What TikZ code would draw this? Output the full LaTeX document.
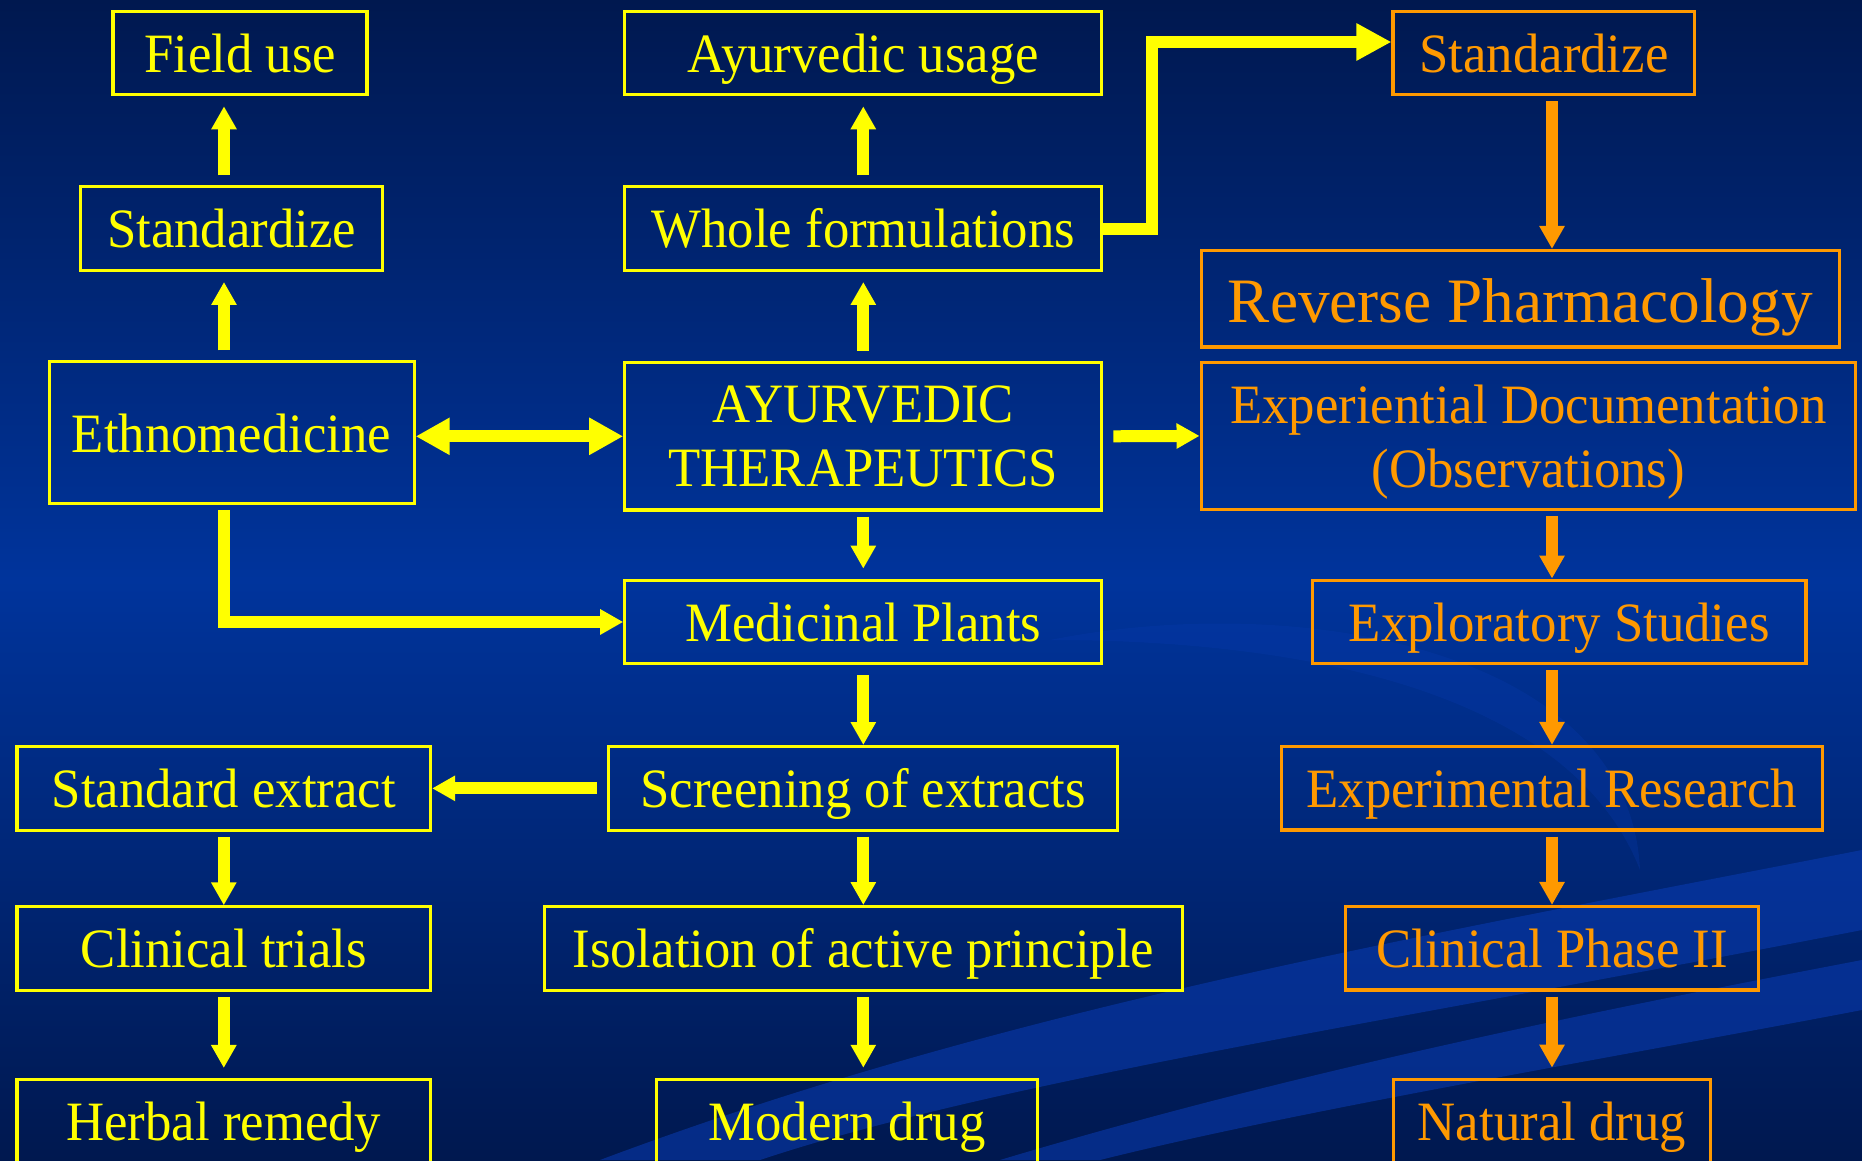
\documentclass[tikz,border=0pt]{standalone}
\usepackage{fontspec}
\setmainfont[FakeStretch=0.95]{Liberation Serif}
\newfontfamily\bigserif{Liberation Serif}
\usetikzlibrary{positioning}
\usetikzlibrary{arrows.meta}

\definecolor{ayuyellow}{HTML}{FFFF00}
\definecolor{rporange}{HTML}{FF9900}
\definecolor{bgdark}{HTML}{00184F}
\definecolor{bgmid}{HTML}{00349C}
\definecolor{swoosh}{HTML}{0A3CB4}

\begin{document}
\begin{tikzpicture}[font=\fontsize{15.8}{18.3}\selectfont]
        \tikzstyle{box_style} = [rectangle, line width=0.9pt, inner sep=0pt, minimum height=0.835cm]
        \tikzstyle{ybox_style} = [box_style, draw=ayuyellow, text=ayuyellow, text height=11pt, text depth=0pt]
        \tikzstyle{obox_style} = [box_style, draw=rporange, text=rporange, text height=11pt, text depth=0pt]
        \tikzstyle{two_lines} = [align=center, minimum height=1.475cm, text height=, text depth=0pt]
        \tikzstyle{yarrow_style} = [-{Triangle[length=2.3mm, width=2.4mm]}, ayuyellow, line width=1.2mm, shorten <=0.5mm, shorten >=0.3mm]
        \tikzstyle{oarrow_style} = [yarrow_style, rporange]
        \tikzstyle{barrow_style} = [yarrow_style, -{Triangle[length=3.5mm, width=3.5mm]}]
        \tikzstyle{up_style} = [shorten <=1mm, shorten >=1mm]

        % background
        \useasboundingbox (0,0) rectangle (18.62,11.60);
        \shade[top color=bgdark, bottom color=bgdark, middle color=bgmid] (0,0) rectangle (18.62,11.60);
        \fill[swoosh, opacity=0.55] (6.0,0) .. controls (10,1.5) and (14,2.2) .. (18.62,3.1)
            -- (18.62,2.3) .. controls (14,1.4) and (10,0.8) .. (7.6,0) -- cycle;
        \fill[swoosh, opacity=0.55] (10.0,0) .. controls (13,0.9) and (16,1.5) .. (18.62,2.0)
            -- (18.62,1.5) .. controls (16,1.0) and (13,0.5) .. (11.0,0) -- cycle;
        \fill[swoosh, opacity=0.25] (10.5,5.2) .. controls (13,5.7) and (16.3,5.1) .. (16.4,2.9)
            .. controls (15.7,4.7) and (13,5.2) .. (10.5,5.2) -- cycle;

        \coordinate (lx) at (2.24,0);
        \coordinate (rx) at (15.52,0);

        % left column
        \node[ybox_style, minimum width=2.54cm] (field) at (2.40,11.07) {Field use};
        \node[ybox_style, minimum width=3.02cm] (stdl) [below=0.89cm of field, xshift=-0.084cm] {Standardize};
        \node[ybox_style, minimum width=3.65cm, minimum height=1.418cm] (ethno) [below=0.883cm of stdl] {Ethnomedicine};
        \node[ybox_style, minimum width=4.135cm] (stdx) [below=2.40cm of ethno, xshift=-0.078cm] {Standard extract};
        \node[ybox_style, minimum width=4.135cm] (clin) [below=0.734cm of stdx] {Clinical trials};
        \node[ybox_style, minimum width=4.135cm] (herbal) [below=0.86cm of clin] {Herbal remedy};

        % middle column
        \node[ybox_style, minimum width=4.77cm] (ayu) at (8.633,11.07) {Ayurvedic usage};
        \node[ybox_style, minimum width=4.77cm] (whole) [below=0.89cm of ayu] {Whole formulations};
        \node[ybox_style, two_lines, minimum width=4.77cm] (ather) [below=0.89cm of whole] {AYURVEDIC\\THERAPEUTICS};
        \node[ybox_style, minimum width=4.77cm] (medic) [below=0.67cm of ather] {Medicinal Plants};
        \node[ybox_style, minimum width=5.09cm] (screen) [below=0.797cm of medic] {Screening of extracts};
        \node[ybox_style, minimum width=6.38cm] (isol) [below=0.734cm of screen] {Isolation of active principle};
        \node[ybox_style, minimum width=3.805cm] (modern) [below=0.86cm of isol, xshift=-0.162cm] {Modern drug};

        % right column
        \node[obox_style, minimum width=3.017cm] (stdr) at (15.439,11.07) {Standardize};
        \node[obox_style, minimum width=6.384cm, minimum height=0.965cm, font=\bigserif\fontsize{18}{22}\selectfont, text height=13.4pt] (revph) [below=1.526cm of stdr, xshift=-0.236cm] {Reverse Pharmacology};
        \node[obox_style, two_lines, minimum width=6.544cm] (expdoc) [below=0.12cm of revph, xshift=0.08cm] {Experiential Documentation\\(Observations)};
        \node[obox_style, minimum width=4.934cm] (explo) [below=0.673cm of expdoc, xshift=0.309cm] {Exploratory Studies};
        \node[obox_style, minimum width=5.412cm] (expres) [below=0.797cm of explo, xshift=-0.073cm] {Experimental Research};
        \node[obox_style, minimum width=4.135cm] (phase) [below=0.734cm of expres] {Clinical Phase II};
        \node[obox_style, minimum width=3.168cm] (natural) [below=0.86cm of phase] {Natural drug};

        % yellow arrows
        \draw[yarrow_style, up_style] (ethno.north -| lx) -- (stdl.south -| lx);
        \draw[yarrow_style, up_style] (stdl.north -| lx) -- (field.south -| lx);
        \draw[yarrow_style, up_style] (ather) -- (whole);
        \draw[yarrow_style, up_style] (whole) -- (ayu);
        \draw[yarrow_style, shorten >=1mm] (ather) -- (medic);
        \draw[yarrow_style, shorten <=1mm, shorten >=0mm] (medic) -- (screen);
        \draw[yarrow_style, shorten >=0mm] (screen) -- (isol);
        \draw[yarrow_style, shorten >=1mm] (isol.south) -- (isol.south |- modern.north);
        \draw[yarrow_style, shorten <=1mm, shorten >=0mm] (screen.west) -- (screen.west -| stdx.east);
        \draw[yarrow_style, shorten >=0mm] (stdx) -- (clin);
        \draw[yarrow_style, shorten >=1mm] (clin) -- (herbal);
        \draw[yarrow_style, {Triangle[length=3.4mm, width=3.5mm]}-{Triangle[length=3.4mm, width=3.5mm]}, shorten <=0mm, shorten >=0mm] (ethno.east |- ather) -- (ather.west);
        \draw[yarrow_style, shorten <=1mm, shorten >=0mm] (ather.east) -- (expdoc.west);
        \draw[yarrow_style, shorten >=0mm] (ethno.south -| lx) |- (medic.west);
        \draw[barrow_style, shorten <=0mm, shorten >=0mm] (whole.east) -- ++(0.49,0) |- ([yshift=1.1mm]stdr.west);

        % orange arrows
        \draw[oarrow_style, shorten >=0mm] (stdr.south -| rx) -- (revph.north -| rx);
        \draw[oarrow_style, shorten >=0mm] (expdoc.south -| rx) -- (explo.north -| rx);
        \draw[oarrow_style, shorten >=0mm] (explo.south -| rx) -- (expres.north -| rx);
        \draw[oarrow_style, shorten >=0mm] (expres.south -| rx) -- (phase.north -| rx);
        \draw[oarrow_style, shorten >=1mm] (phase.south -| rx) -- (natural.north -| rx);

    \end{tikzpicture}
\end{document}
